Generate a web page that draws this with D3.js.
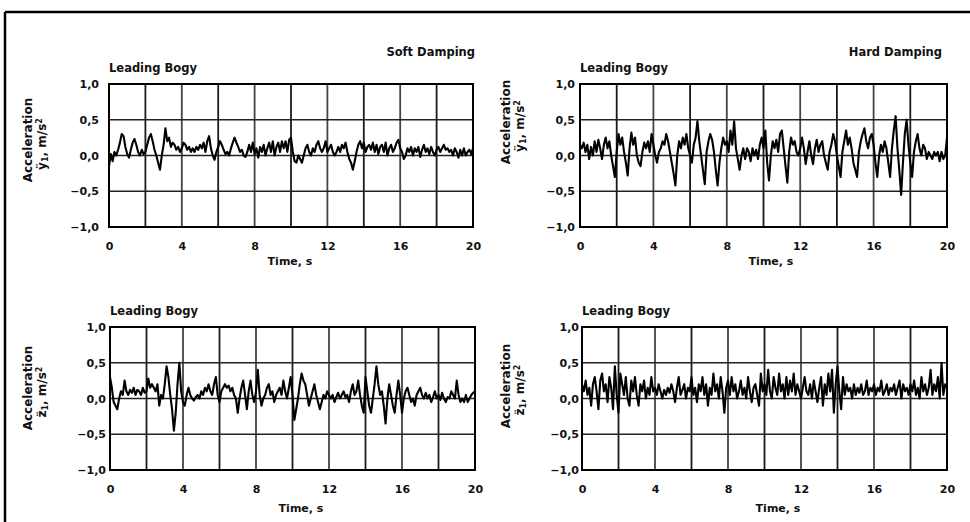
<!DOCTYPE html>
<html><head><meta charset="utf-8">
<script src="https://cdn.jsdelivr.net/npm/d3@7"></script>
<style>
body{margin:0;background:#fff;}
text{font-family:"DejaVu Sans",Arial,sans-serif;fill:#111;}
</style></head>
<body>
<svg id="c" width="970" height="522"></svg>
<script>
// ---------- DATA ----------
const tStep = 0.1;            // seconds between samples
const xTickLabels = [0, 4, 8, 12, 16, 20];
const xGrid = [0,2,4,6,8,10,12,14,16,18,20];
const yTickLabels = [1.0, 0.5, 0.0, -0.5, -1.0];
const columnTitles = ["Soft Damping", "Hard Damping"];
const panelTitle = "Leading Bogy";

// Lateral acceleration, soft damping (m/s^2), one row per second
const softLateral = [
 -0.15,0.02,-0.08,0.05,0.0,0.08,0.18,0.3,0.27,0.12,
 0.02,-0.03,0.08,0.18,0.23,0.15,0.05,0.0,0.08,0.02,
 0.05,0.15,0.25,0.3,0.2,0.08,0.0,-0.1,-0.2,0.0,
 0.15,0.38,0.2,0.25,0.12,0.18,0.15,0.08,0.12,0.05,
 0.1,0.18,0.15,0.08,0.12,0.05,0.1,0.05,0.12,0.08,
 0.15,0.1,0.18,0.05,0.2,0.27,0.1,0.0,-0.06,0.05,
 0.12,0.2,0.15,0.08,0.02,0.05,0.0,0.1,0.18,0.25,
 0.18,0.12,0.05,0.08,0.0,-0.02,0.05,0.15,0.05,0.18,
 0.02,0.1,-0.03,0.12,0.05,0.15,0.0,0.1,0.18,0.05,
 0.2,0.0,0.12,0.18,0.05,0.2,0.1,0.2,0.05,0.22,
 0.25,0.05,-0.08,-0.1,0.0,-0.05,-0.1,0.0,0.1,0.15,
 0.05,0.0,0.1,0.05,0.15,0.2,0.1,0.05,0.1,0.2,
 0.05,0.1,0.15,0.05,0.0,0.05,0.12,0.05,0.15,0.1,
 0.18,0.05,-0.05,-0.1,-0.2,-0.08,0.05,0.15,0.2,0.1,
 0.18,0.05,0.12,0.15,0.08,0.18,0.05,0.15,0.02,0.12,
 0.15,0.05,0.18,0.0,0.1,0.15,0.05,0.1,0.18,0.22,
 0.1,0.05,-0.05,0.0,0.1,0.05,0.12,0.0,0.1,0.05,
 0.12,-0.02,0.08,0.15,0.05,0.1,0.02,0.12,0.05,0.0,
 0.08,0.12,0.05,0.1,0.15,0.08,0.1,0.05,0.08,0.0,
 0.1,0.05,-0.03,0.08,0.0,0.1,0.0,0.05,0.08,0.02,
 0.1
];
// Lateral acceleration, hard damping
const hardLateral = [
 0.15,0.1,0.18,0.05,0.15,-0.05,0.12,0.0,0.2,0.05,
 0.22,0.1,-0.05,0.15,0.25,0.1,0.2,0.0,-0.15,-0.3,
 0.05,0.3,0.15,0.25,0.05,-0.1,-0.28,0.1,0.32,0.15,
 0.25,0.0,-0.1,-0.15,0.05,0.18,0.1,0.2,0.05,0.3,
 0.15,0.0,-0.1,0.05,0.1,0.2,0.15,0.3,0.2,0.05,
 -0.1,-0.25,-0.42,0.0,0.2,0.1,0.25,0.15,0.3,0.1,
 0.0,-0.1,0.15,0.25,0.48,0.2,0.0,-0.2,-0.4,0.05,
 0.2,0.3,0.22,0.05,-0.2,-0.42,-0.1,0.1,0.25,0.15,
 0.2,0.05,0.35,0.15,0.48,0.1,-0.05,-0.2,0.0,0.1,
 -0.05,0.1,0.05,-0.08,0.1,0.0,0.08,-0.05,0.15,0.25,
 0.1,0.35,-0.1,-0.35,0.0,0.2,0.1,0.22,0.05,0.3,
 0.35,0.1,-0.15,-0.38,0.05,0.25,0.15,0.2,0.05,0.0,
 0.1,0.25,0.1,-0.12,0.05,0.2,0.0,-0.12,0.1,0.22,
 0.05,0.15,0.2,0.0,-0.1,-0.2,0.05,0.15,0.3,0.2,
 0.0,-0.15,-0.3,0.05,0.2,0.35,0.15,0.25,0.1,-0.1,
 -0.2,-0.3,0.05,0.2,0.3,0.38,0.2,0.1,0.25,0.3,
 0.15,-0.1,-0.3,0.0,0.15,0.05,0.2,0.1,-0.1,-0.3,
 0.1,0.35,0.55,0.1,-0.2,-0.55,-0.1,0.3,0.5,0.15,
 -0.1,-0.3,0.05,0.2,0.3,0.1,0.0,0.15,0.1,-0.05,
 0.05,0.0,-0.05,0.05,0.0,0.05,-0.08,0.05,-0.05,0.0,
 0.25
];
// Vertical acceleration, soft damping
const softVertical = [
 0.3,0.15,-0.05,-0.1,-0.15,0.0,0.1,0.05,0.25,0.1,
 0.05,0.12,0.08,0.15,0.05,0.12,0.1,0.05,0.15,0.08,
 0.1,0.28,0.15,0.2,0.15,0.1,0.2,-0.1,0.05,0.0,
 0.2,0.45,0.3,0.05,-0.15,-0.45,-0.2,0.2,0.5,0.1,
 -0.05,-0.1,0.05,0.15,0.05,0.0,-0.03,0.02,0.05,0.0,
 0.1,0.05,0.15,0.1,0.2,0.1,0.05,0.2,0.3,0.05,
 -0.05,0.1,0.15,0.2,0.15,0.18,0.1,0.15,0.05,0.0,
 -0.2,0.0,0.15,0.25,0.05,-0.15,0.1,0.25,0.05,-0.05,
 0.1,0.4,0.05,-0.1,0.0,0.05,0.15,0.2,0.05,0.1,
 -0.05,0.05,0.1,0.15,0.05,0.25,0.1,0.0,0.15,0.3,
 0.05,-0.3,-0.15,0.0,0.2,0.35,0.25,0.2,0.05,-0.1,
 0.0,0.1,0.2,0.05,-0.05,-0.15,-0.05,0.05,0.0,0.1,
 0.05,0.0,0.05,-0.05,0.02,0.08,0.0,0.05,0.1,0.02,
 0.05,-0.05,0.1,0.2,0.05,0.1,0.25,0.05,-0.1,-0.2,
 0.3,0.1,-0.1,-0.2,0.0,0.2,0.45,0.2,0.05,0.1,
 -0.1,-0.35,0.0,0.2,0.05,-0.1,-0.2,0.05,0.25,0.05,
 -0.2,0.0,0.1,0.15,0.05,-0.05,0.0,-0.1,0.05,0.1,
 0.15,0.05,0.0,0.08,0.0,0.05,-0.05,0.02,0.1,0.0,
 0.05,-0.02,0.08,0.0,-0.05,0.02,0.0,0.1,0.05,0.0,
 0.25,0.05,-0.05,0.0,-0.05,0.05,-0.05,0.0,0.05,0.08,
 0.1
];
// Vertical acceleration, hard damping
const hardVertical = [
 0.2,0.1,0.25,0.05,0.15,-0.1,0.2,0.3,0.1,-0.15,
 0.25,0.35,0.1,0.2,-0.05,0.3,0.15,-0.15,0.45,0.05,
 -0.2,0.35,0.2,0.05,0.3,0.0,-0.1,0.25,0.1,0.3,
 0.05,-0.1,0.2,0.1,0.25,0.0,0.15,0.05,0.3,0.1,
 0.15,0.05,0.2,0.1,0.0,0.12,0.05,0.15,0.08,0.2,
 0.1,-0.05,0.15,0.3,0.05,0.12,0.2,0.0,0.15,0.1,
 0.3,0.05,0.15,-0.05,0.2,0.1,0.3,0.05,0.2,-0.1,
 0.15,0.05,0.35,0.1,0.2,0.0,0.3,0.1,-0.2,0.15,
 0.25,0.05,0.3,0.1,0.2,0.0,0.1,0.25,0.05,0.15,
 0.0,0.3,0.1,-0.05,0.15,0.2,0.05,-0.1,0.35,0.1,
 0.2,0.05,0.4,0.1,0.0,0.3,0.15,0.05,0.35,0.1,
 0.2,0.0,0.3,0.05,0.25,0.1,0.35,0.05,0.2,0.1,
 0.0,0.15,0.3,0.1,0.05,0.2,0.0,0.25,0.1,-0.05,
 0.15,0.3,-0.1,0.2,0.05,0.35,0.1,0.4,-0.2,0.2,
 0.45,0.1,-0.15,0.3,0.05,0.2,0.1,0.15,0.0,0.2,
 0.05,0.15,0.08,0.2,0.05,0.1,0.25,0.05,0.15,0.1,
 0.2,0.05,0.15,0.1,0.25,0.05,0.1,0.2,0.05,0.15,
 0.1,0.2,0.05,0.15,0.25,0.0,0.2,0.1,0.15,0.05,
 0.2,0.1,0.25,0.05,0.15,0.0,0.3,0.1,0.2,0.05,
 0.15,0.4,0.05,0.2,0.1,0.3,0.0,0.5,0.05,0.2,
 0.15
];

// ---------- LAYOUT ----------
const FONT = '"DejaVu Sans",Arial,sans-serif';
const panels = [
  {data: softLateral,  sym: "ÿ", L:109, R:473, T:84,  B:227, labOff:10, tx:290, ty:261, titleX:32, titleY:140},
  {data: hardLateral,  sym: "ÿ", L:580, R:947, T:84,  B:227, labOff:5,  tx:771, ty:261, titleX:510, titleY:122},
  {data: softVertical, sym: "z̈", L:110, R:475, T:327, B:470, labOff:4,  tx:301, ty:508, titleX:32, titleY:388},
  {data: hardVertical, sym: "z̈", L:582, R:947, T:327, B:470, labOff:3,  tx:778, ty:508, titleX:510, titleY:386}
];

const svg = d3.select("#c");
const fmt = v => d3.format(".1f")(v).replace(".", ",");

// outer frame
svg.append("line").attr("x1",5).attr("x2",970).attr("y1",12).attr("y2",12).attr("stroke","#000").attr("stroke-width",2.5);
svg.append("line").attr("x1",5).attr("x2",5).attr("y1",12).attr("y2",522).attr("stroke","#000").attr("stroke-width",2.5);

// column titles
svg.append("text").attr("x",475).attr("y",56).attr("text-anchor","end").attr("font-size",11.5).attr("font-weight","bold").text(columnTitles[0]);
svg.append("text").attr("x",942).attr("y",56).attr("text-anchor","end").attr("font-size",11.5).attr("font-weight","bold").text(columnTitles[1]);

panels.forEach(p => {
  const x = d3.scaleLinear().domain([0,20]).range([p.L,p.R]);
  const y = d3.scaleLinear().domain([-1,1]).range([p.B,p.T]);
  const g = svg.append("g");

  // panel title
  g.append("text").attr("x",p.L).attr("y",p.T-12).attr("font-size",11.5).attr("font-weight","bold").text(panelTitle);

  // grid
  g.selectAll(".vg").data(xGrid).enter().append("line")
    .attr("x1",d=>x(d)).attr("x2",d=>x(d)).attr("y1",p.T).attr("y2",p.B)
    .attr("stroke",(d,i)=> i%2 ? "#1a1a1a" : "#444").attr("stroke-width",1.8);
  g.selectAll(".hg").data(yTickLabels).enter().append("line")
    .attr("x1",p.L).attr("x2",p.R).attr("y1",d=>y(d)).attr("y2",d=>y(d))
    .attr("stroke","#222").attr("stroke-width",1.7);
  g.append("rect").attr("x",p.L).attr("y",p.T).attr("width",p.R-p.L).attr("height",p.B-p.T)
    .attr("fill","none").attr("stroke","#000").attr("stroke-width",2);

  // y axis labels
  const ya = d3.axisLeft(y).tickValues(yTickLabels).tickFormat(fmt).tickSize(0).tickPadding(p.labOff);
  const yg = g.append("g").attr("transform",`translate(${p.L},0)`).call(ya);
  yg.select(".domain").remove();
  yg.selectAll("text").attr("font-size",11).attr("font-weight","bold").attr("fill","#111").style("font-family",FONT);

  // x axis labels
  const xa = d3.axisBottom(x).tickValues(xTickLabels).tickFormat(d3.format("d")).tickSize(0).tickPadding(15);
  const xg = g.append("g").attr("transform",`translate(0,${p.B})`).call(xa);
  xg.select(".domain").remove();
  xg.selectAll("text").attr("font-size",11).attr("font-weight","bold").attr("fill","#111").style("font-family",FONT);

  // x title
  g.append("text").attr("x",p.tx).attr("y",p.ty+4).attr("text-anchor","middle").attr("font-size",11).attr("font-weight","bold").text("Time, s");

  // y title (two lines, rotated)
  const t1 = g.append("text").attr("transform",`translate(${p.titleX},${p.titleY}) rotate(-90)`)
    .attr("text-anchor","middle").attr("font-size",12).attr("font-weight","bold");
  t1.append("tspan").attr("x",0).attr("dy",0).text("Acceleration");
  const l2 = t1.append("tspan").attr("x",-4).attr("dy",14);
  l2.append("tspan").text(p.sym);
  l2.append("tspan").attr("font-size",8).attr("dy",2).text("1");
  l2.append("tspan").attr("dy",-2).text(", m/s");
  l2.append("tspan").attr("font-size",8).attr("dy",-4).text("2");

  // trace
  const line = d3.line().x((d,i)=>x(i*tStep)).y(d=>y(d));
  g.append("path").datum(p.data).attr("d",line).attr("fill","none")
    .attr("stroke","#000").attr("stroke-width",2.1).attr("stroke-linejoin","round");
});
</script>
</body></html>
